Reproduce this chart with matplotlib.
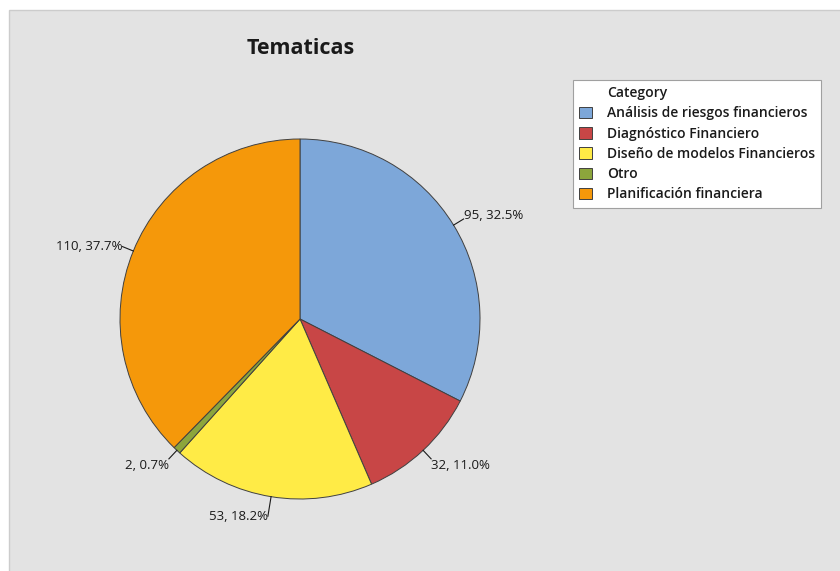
import numpy as np
from matplotlib import pyplot as plt
from matplotlib.patches import Rectangle, Patch

categories = ["Análisis de riesgos financieros", "Diagnóstico Financiero",
              "Diseño de modelos Financieros", "Otro", "Planificación financiera"]
counts = [95, 32, 53, 2, 110]
colors = ["#7da7d9", "#c84646", "#ffeb46", "#8ca53c", "#f5980a"]

plt.rcParams['font.family'] = ['Open Sans', 'DejaVu Sans']

W, H = 840, 571
fig = plt.figure(figsize=(W / 100, H / 100), dpi=100, facecolor="white")

# gray plot area
fig.patches.append(Rectangle((9 / W, -0.01), 1.0, 1 - 10 / H + 0.01, transform=fig.transFigure,
                             facecolor="#e3e3e3", edgecolor="#cccccc", linewidth=1, zorder=-5))

fig.text(301 / W, 1 - 49 / H, "Tematicas", ha="center", va="center",
         fontsize=15.5, fontweight="bold", color="#1a1a1a")

# pie axes: center (300, 319) px, radius 180 px
ax = fig.add_axes([120 / W, (H - 499) / H, 360 / W, 360 / H])
ax.set_zorder(2)
wedges, _ = ax.pie(counts, colors=colors, startangle=90, counterclock=False,
                   wedgeprops=dict(edgecolor="#404040", linewidth=0.7))
ax.set_xlim(-1, 1)
ax.set_ylim(-1, 1)
ax.set_aspect("equal")
ax.axis("off")

total = sum(counts)
for w, n in zip(wedges, counts):
    ang = np.deg2rad((w.theta1 + w.theta2) / 2)
    x, y = np.cos(ang), np.sin(ang)
    # longer leader for labels near the top/bottom of the pie
    r1 = 1.11 if abs(x) < 0.3 else 1.065
    x1, y1 = r1 * x, r1 * y
    ax.plot([x, x1], [y, y1], color="#1a1a1a", linewidth=0.8, clip_on=False)
    ha = "left" if x > 0 else "right"
    if y > 0.45:
        va = "baseline"
    elif y < -0.3 and abs(x) > 0.3:
        va = "top"
    else:
        va = "center"
    ax.text(x1, y1, f"{n}, {100 * n / total:.1f}%", ha=ha, va=va,
            fontsize=9.5, color="#1a1a1a", clip_on=False)

# legend with "Category" header aligned to labels
handles = [Patch(visible=False)] + list(wedges)
labels = ["Category"] + categories
leg = fig.legend(handles, labels, loc="upper left",
                 bbox_to_anchor=(573 / W, 1 - 80 / H), fontsize=10,
                 frameon=True, fancybox=False, edgecolor="#a0a0a0", framealpha=1,
                 handlelength=0.9, handleheight=0.9, handletextpad=1.1,
                 labelspacing=0.45, borderpad=0.45, borderaxespad=0)
leg.get_frame().set_linewidth(0.8)
leg.set_zorder(3)
for t in leg.get_texts():
    t.set_fontweight("semibold")
    t.set_color("#1a1a1a")
for p in leg.get_patches():
    p.set_edgecolor("#404040")
    p.set_linewidth(0.7)

fig.savefig("out.png", dpi=100)
